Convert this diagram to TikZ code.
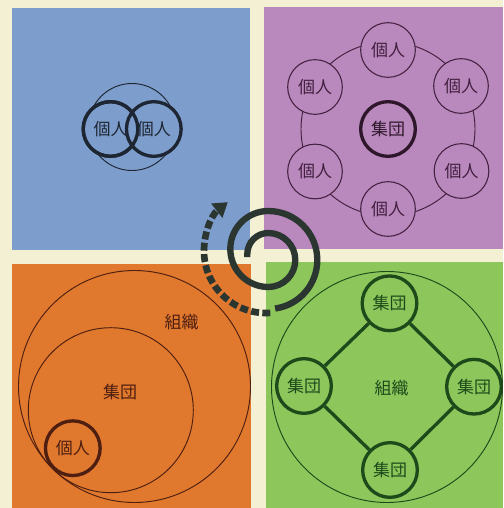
\documentclass[tikz,border=0pt]{standalone}
\usepackage{fontspec}
\newfontfamily\jpfont{Noto Sans CJK JP}
\usetikzlibrary{arrows.meta}

\definecolor{haikei}{HTML}{F3F0D4}
\definecolor{aoiro}{HTML}{7D9DCC}
\definecolor{murasaki}{HTML}{B988BD}
\definecolor{daidai}{HTML}{E0782E}
\definecolor{midori}{HTML}{8DC75B}
\definecolor{aosen}{HTML}{1E2633}
\definecolor{murasen}{HTML}{42203F}
\definecolor{murakoi}{HTML}{2E172B}
\definecolor{daisen}{HTML}{4E1F10}
\definecolor{midosen}{HTML}{1E4A1B}
\definecolor{uzusen}{HTML}{2C3631}

\tikzset{
  moji/.style={font=\jpfont\fontsize{14.5}{17}\selectfont},
  maru/.style={circle, draw, moji, minimum size=1.64cm, inner sep=0pt},
  futomaru/.style={maru, line width=0.1cm},
  hosomaru/.style={maru, line width=0.9pt},
  hososen/.style={line width=0.8pt},
}

\begin{document}
\begin{tikzpicture}[x=0.03cm, y=-0.03cm]
  \fill[haikei] (0,0) rectangle (503,508);
  \useasboundingbox (0,0) rectangle (503,508);

  % 四つのパネル
  \fill[aoiro]    (12,8)    rectangle (250,250);
  \fill[murasaki] (264,7)   rectangle (503,249);
  \fill[daidai]   (12,264)  rectangle (251,508);
  \fill[midori]   (266,262) rectangle (503,508);

  % 左上：個人と個人
  \draw[aosen, hososen] (132,127) circle[radius=43.5];
  \node[futomaru, aosen, fill=aoiro] (kojinL) at (110.5,129) {個人};
  \node[futomaru, aosen, fill=aoiro] (kojinR) at (153.8,129) {個人};
  \draw[aosen, line width=0.1cm] (kojinL.center) circle[radius=27.3];

  % 右上：集団の輪
  \draw[murasen, hososen] (388,129) circle[radius=87];
  \node[hosomaru, murasen, fill=murasaki] (kojin1) at (388,50)    {個人};
  \node[hosomaru, murasen, fill=murasaki] (kojin2) at (461,86)    {個人};
  \node[hosomaru, murasen, fill=murasaki] (kojin3) at (461.5,171) {個人};
  \node[hosomaru, murasen, fill=murasaki] (kojin4) at (388,209)   {個人};
  \node[hosomaru, murasen, fill=murasaki] (kojin5) at (315,171.5) {個人};
  \node[hosomaru, murasen, fill=murasaki] (kojin6) at (315,87)    {個人};
  \node[futomaru, murakoi] (shudanP) at (388,129) {集団};

  % 左下：組織 ⊃ 集団 ⊃ 個人
  \draw[daisen, hososen] (134.5,386.5) circle[radius=116];
  \draw[daisen, hososen] (110.8,410.2) circle[radius=82.5];
  \node[futomaru, daisen] (kojinO) at (72.8,448.2) {個人};
  \node[moji, daisen] (shudanO) at (120,391.7) {集団};
  \node[moji, daisen] (soshikiO) at (181.7,321.7) {組織};

  % 右下：集団のつながり
  \draw[midosen, hososen] (387,387) circle[radius=115.5];
  \node[futomaru, midosen] (shudanT) at (389.5,303.3) {集団};
  \node[futomaru, midosen] (shudanL) at (304,386)     {集団};
  \node[futomaru, midosen] (shudanR) at (474,386.7)   {集団};
  \node[futomaru, midosen] (shudanB) at (390,470)     {集団};
  \node[moji, midosen] (soshikiG) at (391.5,388) {組織};
  \draw[midosen, line width=0.1cm] (shudanT) -- (shudanR);
  \draw[midosen, line width=0.1cm] (shudanR) -- (shudanB);
  \draw[midosen, line width=0.1cm] (shudanB) -- (shudanL);
  \draw[midosen, line width=0.1cm] (shudanL) -- (shudanT);

  % 中央の渦巻き
  \draw[uzusen, line width=0.19cm] (247.3,257) -- (247.3,254)
    arc[start angle=180, end angle=270, radius=21]
    arc[start angle=270, end angle=450, radius=27]
    arc[start angle=90,  end angle=270, radius=38]
    arc[start angle=270, end angle=442, radius=49];
  \draw[uzusen, line width=0.2cm, dash pattern=on 0.24cm off 0.1cm,
        -{Triangle[length=0.42cm, width=0.52cm]}]
    (266,251) ++(86:62) arc[start angle=86, end angle=232, radius=62];
\end{tikzpicture}
\end{document}
